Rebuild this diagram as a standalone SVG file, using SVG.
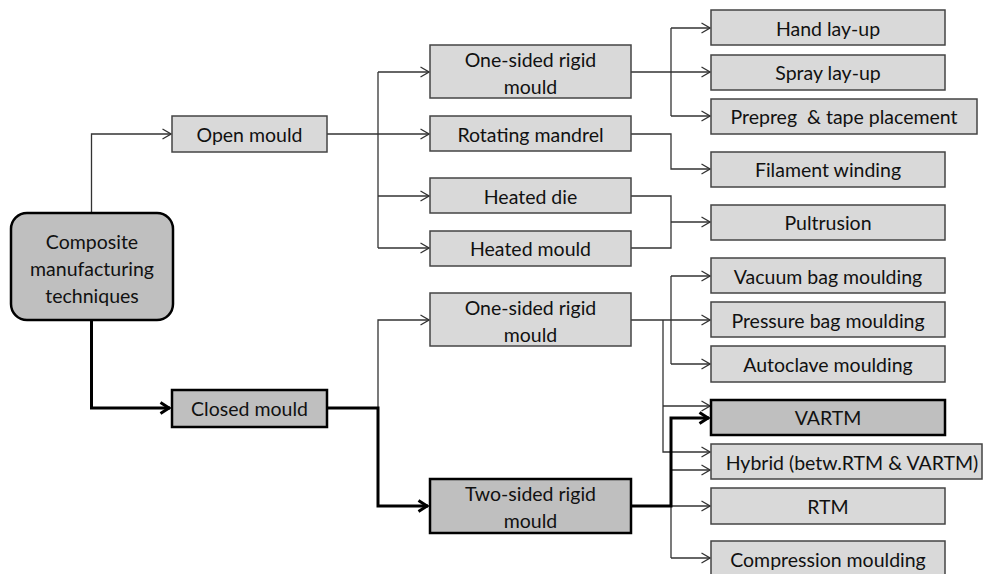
<svg xmlns="http://www.w3.org/2000/svg" width="983" height="574" viewBox="0 0 983 574">
<defs>
<marker id="a" viewBox="0 0 10 12" refX="9.5" refY="6" markerWidth="10" markerHeight="12" markerUnits="userSpaceOnUse" orient="auto">
<path d="M1,1 L9.5,6 L1,11" fill="none" stroke="#333" stroke-width="1.3"/>
</marker>
<marker id="b" viewBox="0 0 12 14" refX="11" refY="7" markerWidth="12" markerHeight="14" markerUnits="userSpaceOnUse" orient="auto">
<path d="M1.5,1.5 L10,7 L1.5,12.5" fill="none" stroke="#000" stroke-width="3"/>
</marker>
</defs>
<style>
.l rect{fill:#d9d9d9;stroke:#444;stroke-width:1.5}
.d rect{fill:#bfbfbf;stroke:#000;stroke-width:2.5}
text{font-family:Lato,"Open Sans","Liberation Sans",sans-serif;font-size:19.5px;fill:#111;text-anchor:middle;dominant-baseline:central}
.t path{fill:none;stroke:#333;stroke-width:1.3}
.k path{fill:none;stroke:#000;stroke-width:3}
</style>
<rect width="983" height="574" fill="#fff"/>
<g id="connectors">
<g class="t">
<path d="M91.5,213 V134 H171" marker-end="url(#a)"/>
<path d="M327,134 H429" marker-end="url(#a)"/>
<path d="M378,72 V248"/>
<path d="M378,72 H429" marker-end="url(#a)"/>
<path d="M378,196 H429" marker-end="url(#a)"/>
<path d="M378,248 H429" marker-end="url(#a)"/>
<path d="M631,72 H710" marker-end="url(#a)"/>
<path d="M671,28 V116"/>
<path d="M671,28 H710" marker-end="url(#a)"/>
<path d="M671,116 H710" marker-end="url(#a)"/>
<path d="M631,134 H671 V169 H710" marker-end="url(#a)"/>
<path d="M631,196 H671 V248 H631"/>
<path d="M671,222 H710" marker-end="url(#a)"/>
<path d="M378,408 V320 H429" marker-end="url(#a)"/>
<path d="M631,320 H710" marker-end="url(#a)"/>
<path d="M671,276 V364"/>
<path d="M671,276 H710" marker-end="url(#a)"/>
<path d="M671,364 H710" marker-end="url(#a)"/>
<path d="M663,320 V452 H710" marker-end="url(#a)"/>
<path d="M663,406 H710" marker-end="url(#a)"/>
<path d="M671,418 V558"/>
<path d="M671,470 H710" marker-end="url(#a)"/>
<path d="M671,506 H710" marker-end="url(#a)"/>
<path d="M671,558 H710" marker-end="url(#a)"/>
</g>
<g class="k">
<path d="M91.5,320 V408 H170" marker-end="url(#b)"/>
<path d="M327,408 H378 V506 H428" marker-end="url(#b)"/>
<path d="M631,506 H671 V418 H709" marker-end="url(#b)"/>
</g>
</g>
<g id="root" class="d"><rect x="11" y="213" width="162" height="107" rx="16"/>
<text x="92" y="241">Composite</text><text x="92" y="268">manufacturing</text><text x="92" y="295">techniques</text></g>
<g id="open" class="l"><rect x="172" y="116" width="155" height="36"/><text x="249.5" y="134">Open mould</text></g>
<g id="closed" class="d"><rect x="172" y="390" width="155" height="37"/><text x="249.5" y="408">Closed mould</text></g>
<g id="os1" class="l"><rect x="430" y="45" width="201" height="53"/><text x="530.5" y="59">One-sided rigid</text><text x="530.5" y="86">mould</text></g>
<g id="rot" class="l"><rect x="430" y="116" width="201" height="35"/><text x="530.5" y="134">Rotating mandrel</text></g>
<g id="hdie" class="l"><rect x="430" y="178" width="201" height="35"/><text x="530.5" y="196">Heated die</text></g>
<g id="hmould" class="l"><rect x="430" y="231" width="201" height="35"/><text x="530.5" y="248">Heated mould</text></g>
<g id="os2" class="l"><rect x="430" y="293" width="201" height="53"/><text x="530.5" y="307">One-sided rigid</text><text x="530.5" y="334">mould</text></g>
<g id="ts" class="d"><rect x="430" y="479" width="201" height="54"/><text x="530.5" y="493">Two-sided rigid</text><text x="530.5" y="520">mould</text></g>
<g id="hand" class="l"><rect x="711" y="10" width="234" height="35"/><text x="828" y="28">Hand lay-up</text></g>
<g id="spray" class="l"><rect x="711" y="55" width="234" height="35"/><text x="828" y="72">Spray lay-up</text></g>
<g id="prepreg" class="l"><rect x="711" y="99" width="266" height="35"/><text x="844" y="116" xml:space="preserve">Prepreg  &amp; tape placement</text></g>
<g id="filament" class="l"><rect x="711" y="152" width="234" height="35"/><text x="828" y="169">Filament winding</text></g>
<g id="pultrusion" class="l"><rect x="711" y="205" width="234" height="35"/><text x="828" y="222">Pultrusion</text></g>
<g id="vacuum" class="l"><rect x="711" y="258" width="234" height="35"/><text x="828" y="276">Vacuum bag moulding</text></g>
<g id="pressure" class="l"><rect x="711" y="302" width="234" height="35"/><text x="828" y="320">Pressure bag moulding</text></g>
<g id="autoclave" class="l"><rect x="711" y="346" width="234" height="36"/><text x="828" y="364">Autoclave moulding</text></g>
<g id="vartm" class="d"><rect x="711" y="400" width="234" height="35"/><text x="828" y="417">VARTM</text></g>
<g id="hybrid" class="l"><rect x="711" y="444" width="271" height="35"/><text x="852" y="462">Hybrid (betw.RTM &amp; VARTM)</text></g>
<g id="rtm" class="l"><rect x="711" y="488" width="234" height="36"/><text x="828" y="506">RTM</text></g>
<g id="compression" class="l"><rect x="711" y="541" width="234" height="36"/><text x="828" y="559">Compression moulding</text></g>
</svg>
